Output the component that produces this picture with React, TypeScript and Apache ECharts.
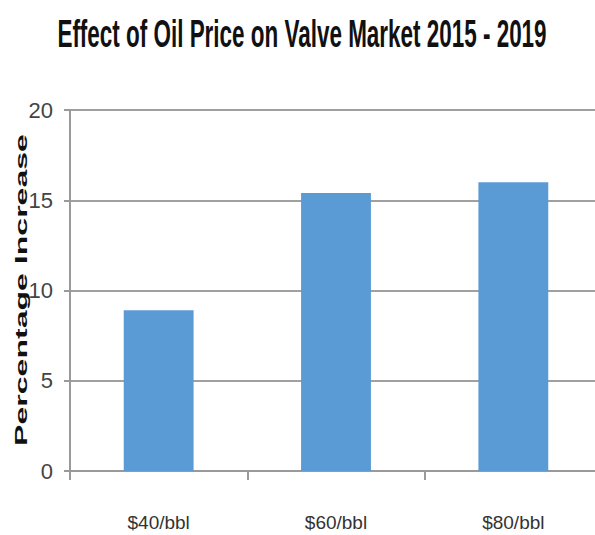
import React, { useEffect, useRef } from "react";
import * as echarts from "echarts";

const categories = ["$40/bbl", "$60/bbl", "$80/bbl"];
const values = [8.9, 15.4, 16.0];
const yTicks = [0, 5, 10, 15, 20];
const titleText = "Effect of Oil Price on Valve Market 2015 - 2019";
const yName = "Percentage Increase";

const SANS = "'Liberation Sans', Arial, sans-serif";

function measure(text: string, font: string): number {
  const c = document.createElement("canvas").getContext("2d");
  if (!c) return text.length * 10;
  c.font = font;
  return c.measureText(text).width;
}

export default function App() {
  const ref = useRef<HTMLDivElement>(null);
  useEffect(() => {
    document.body.style.margin = "0";
    const chart = echarts.init(ref.current!, null, { renderer: "svg" });
    const titleFont = "bold 38px 'Liberation Sans', Arial, sans-serif";
    const titleW = measure(titleText, titleFont);
    const nameFont = "bold 17px 'Liberation Sans', Arial, sans-serif";
    const nameW = measure(yName, nameFont);
    chart.setOption({
      animation: false,
      backgroundColor: "#ffffff",
      graphic: [
        {
          type: "text",
          x: 302,
          y: 34,
          scaleX: 489 / titleW,
          style: {
            text: titleText,
            font: titleFont,
            fill: "#111111",
            align: "center",
            verticalAlign: "middle",
          },
        },
        {
          type: "text",
          x: 21,
          y: 290,
          rotation: Math.PI / 2,
          scaleX: 312 / nameW,
          style: {
            text: yName,
            font: nameFont,
            fill: "#111111",
            align: "center",
            verticalAlign: "middle",
          },
        },
      ],
      grid: {
        left: 70,
        width: 532,
        top: 110,
        height: 361,
        containLabel: false,
        outerBoundsMode: "none",
      },
      xAxis: {
        type: "category",
        data: categories,
        boundaryGap: true,
        axisLine: { show: true, lineStyle: { color: "#9a9a9a", width: 2 } },
        axisTick: { show: true, alignWithLabel: false, length: 9, lineStyle: { color: "#9a9a9a", width: 2 } },
        axisLabel: { margin: 42, fontFamily: SANS, fontSize: 19, color: "#333333" },
      },
      yAxis: {
        type: "value",
        min: yTicks[0],
        max: yTicks[yTicks.length - 1],
        interval: 5,
        axisLine: { show: true, lineStyle: { color: "#9a9a9a", width: 2 } },
        axisTick: { show: true, length: 6, lineStyle: { color: "#9a9a9a", width: 2 } },
        splitLine: { show: true, lineStyle: { color: "#a0a0a0", width: 2 } },
        axisLabel: { margin: 17, fontFamily: SANS, fontSize: 22, color: "#444444" },
      },
      series: [
        {
          type: "bar",
          data: values,
          barWidth: "39.4%",
          itemStyle: { color: "#5B9BD5" },
        },
      ],
    });
    return () => chart.dispose();
  }, []);
  return <div ref={ref} style={{ width: 595, height: 535 }} />;
}
